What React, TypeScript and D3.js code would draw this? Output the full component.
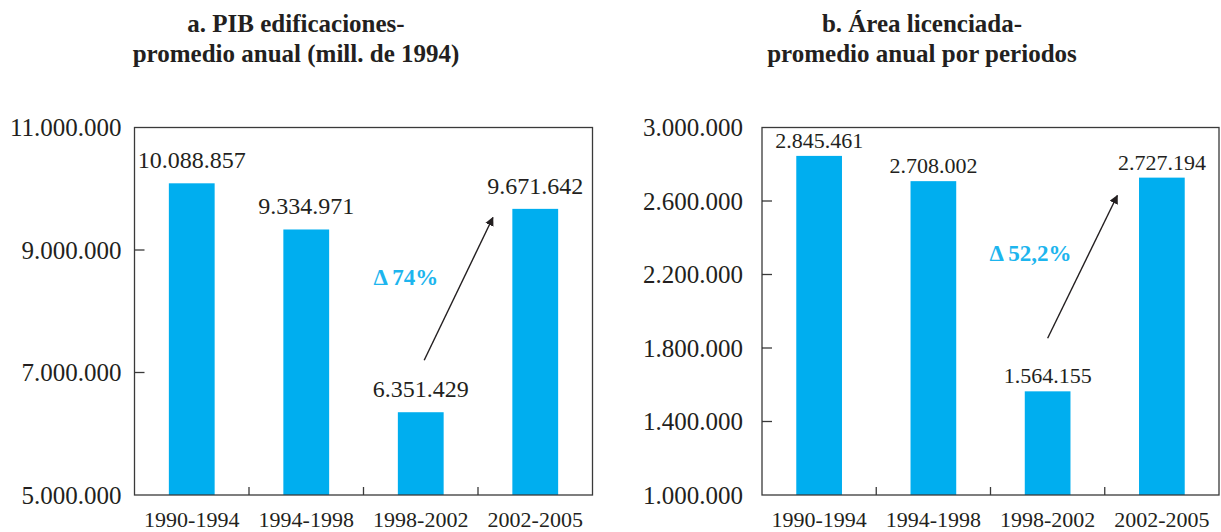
import React from "react";
import * as d3 from "d3";

// Periods shared by both panels
const periods = ["1990-1994", "1994-1998", "1998-2002", "2002-2005"];

// Panel a: PIB edificaciones, annual average (millions of 1994 pesos)
const pibValues = [10088857, 9334971, 6351429, 9671642];
const pibTicks = [5000000, 7000000, 9000000, 11000000];
const pibDomain = [5000000, 11000000];

// Panel b: licensed area, annual average per period
const areaValues = [2845461, 2708002, 1564155, 2727194];
const areaTicks = [1000000, 1400000, 1800000, 2200000, 2600000, 3000000];
const areaDomain = [1000000, 3000000];

// Growth annotations: [category index, value] for arrow tail/head and label anchor
const pibDelta = { label: "Δ 74%", from: [2.03, 7200000], to: [2.63, 9530000], text: [1.87, 8560000] };
const areaDelta = { label: "Δ 52,2%", from: [2.0, 1853000], to: [2.61, 2630000], text: [1.85, 2315000] };

const BAR = "#00AEEF";
const ACCENT = "#1DB5EE";
const INK = "#231F20";
const AXIS = "#3a3a3a";
const SERIF = "Liberation Serif, DejaVu Serif, serif";

const fmt = (v: number) => d3.format(",")(v).replace(/,/g, ".");

type PanelProps = {
  id: string;
  title: string[];
  titleX: number;
  values: number[];
  ticks: number[];
  domain: number[];
  delta: { label: string; from: number[]; to: number[]; text: number[] };
  x0: number;
  x1: number;
  labelSize: number;
  labelGap: number;
  tickGap: number;
  catBaseline: number;
};

const TOP = 127.5;
const BOTTOM = 495;

const serif = (size: number, bold = false): React.CSSProperties => ({
  fontFamily: SERIF,
  fontSize: `${size}px`,
  fontWeight: bold ? 700 : 400,
});

function Panel(p: PanelProps) {
  const x = d3.scaleBand<string>().domain(periods).range([p.x0, p.x1]).paddingInner(0.6).paddingOuter(0.3);
  const y = d3.scaleLinear().domain(p.domain).range([BOTTOM, TOP]);
  const step = x.step();
  const cx = (i: number) => p.x0 + step * (i + 0.5);
  const boundaries = d3.range(1, periods.length).map((i) => p.x0 + step * i);

  const ax1 = cx(p.delta.from[0]);
  const ay1 = y(p.delta.from[1]);
  const ax2 = cx(p.delta.to[0]);
  const ay2 = y(p.delta.to[1]);

  return (
    <g>
      {p.title.map((t, i) => (
        <text key={i} x={p.titleX} y={32 + i * 30} textAnchor="middle" style={serif(25, true)} fill={INK}>
          {t}
        </text>
      ))}

      {periods.map((c, i) => (
        <rect key={c} x={x(c)} y={y(p.values[i])} width={x.bandwidth()} height={BOTTOM - y(p.values[i])} fill={BAR} />
      ))}

      {/* frame */}
      <rect x={p.x0} y={TOP} width={p.x1 - p.x0} height={BOTTOM - TOP} fill="none" stroke={AXIS} strokeWidth={1.3} />

      {/* y ticks (inside) and labels */}
      {p.ticks.map((t) => (
        <g key={t}>
          {t !== p.domain[0] && t !== p.domain[1] && (
            <line x1={p.x0} x2={p.x0 + 10} y1={y(t)} y2={y(t)} stroke={AXIS} strokeWidth={1.3} />
          )}
          <text x={p.x0 - p.tickGap} y={y(t)} dy="0.35em" textAnchor="end" style={serif(25)} fill={INK}>
            {fmt(t)}
          </text>
        </g>
      ))}

      {/* category boundaries */}
      {boundaries.map((bx, i) => (
        <line key={i} x1={bx} x2={bx} y1={BOTTOM} y2={BOTTOM - 8} stroke={AXIS} strokeWidth={1.3} />
      ))}

      {periods.map((c) => (
        <text
          key={c}
          x={(x(c) ?? 0) + x.bandwidth() / 2}
          y={p.catBaseline}
          textAnchor="middle"
          style={serif(22)}
          fill={INK}
        >
          {c}
        </text>
      ))}

      {/* value labels */}
      {periods.map((c, i) => (
        <text
          key={c}
          x={(x(c) ?? 0) + x.bandwidth() / 2}
          y={y(p.values[i]) - p.labelGap}
          textAnchor="middle"
          style={serif(p.labelSize)}
          fill={INK}
        >
          {fmt(p.values[i])}
        </text>
      ))}

      {/* growth arrow */}
      <defs>
        <marker
          id={`arrow-${p.id}`}
          viewBox="0 0 10 10"
          refX={9}
          refY={5}
          markerWidth={9}
          markerHeight={9}
          markerUnits="userSpaceOnUse"
          orient="auto"
        >
          <path d="M0,0 L10,5 L0,10 Z" fill={INK} />
        </marker>
      </defs>
      <line x1={ax1} y1={ay1} x2={ax2} y2={ay2} stroke={INK} strokeWidth={1.4} markerEnd={`url(#arrow-${p.id})`} />
      <text
        x={cx(p.delta.text[0])}
        y={y(p.delta.text[1])}
        dy="0.35em"
        textAnchor="middle"
        style={serif(23, true)}
        fill={ACCENT}
      >
        {p.delta.label}
      </text>
    </g>
  );
}

export default function App() {
  return (
    <svg width={1221} height={532} style={{ position: "absolute", left: 0, top: 0, background: "#fff" }}>
      <Panel
        id="a"
        title={["a. PIB edificaciones-", "promedio anual (mill. de 1994)"]}
        titleX={296}
        values={pibValues}
        ticks={pibTicks}
        domain={pibDomain}
        delta={pibDelta}
        x0={134.5}
        x1={592.5}
        labelSize={24}
        labelGap={15}
        tickGap={13}
        catBaseline={527}
      />
      <Panel
        id="b"
        title={["b. Área licenciada-", "promedio anual por periodos"]}
        titleX={922}
        values={areaValues}
        ticks={areaTicks}
        domain={areaDomain}
        delta={areaDelta}
        x0={762}
        x1={1219}
        labelSize={22}
        labelGap={8}
        tickGap={19}
        catBaseline={527}
      />
    </svg>
  );
}
